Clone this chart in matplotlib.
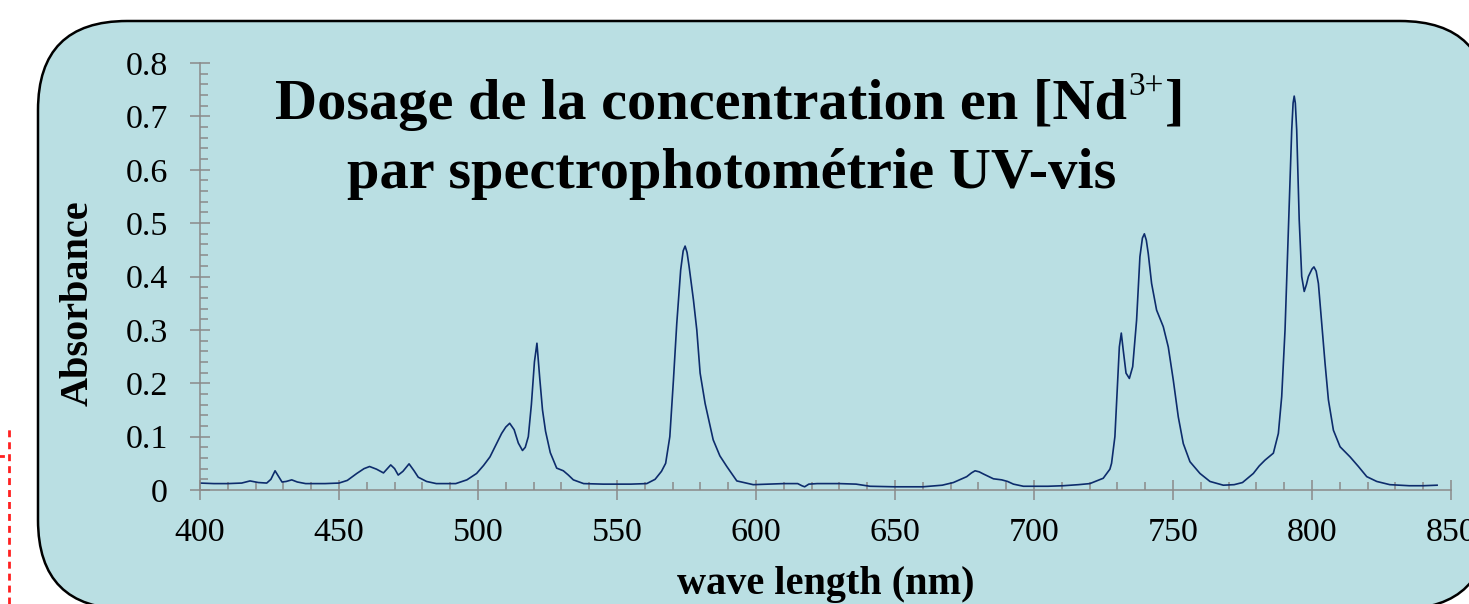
import matplotlib
matplotlib.use("Agg")
import matplotlib.pyplot as plt
from matplotlib.patches import FancyBboxPatch
from matplotlib.lines import Line2D
from matplotlib.ticker import MultipleLocator

plt.rcParams['font.family'] = ['Liberation Serif', 'DejaVu Serif']
plt.rcParams['lines.scale_dashes'] = False

# Nd3+ absorption spectrum
wavelength = [400, 405, 410, 415, 418, 421, 424, 425.5, 427, 428.3, 429.5, 431, 433, 435, 438,
              445, 450, 453, 456.4, 459, 461, 463.5, 466, 468.6, 470, 471.3, 473, 475.2, 477,
              478.5, 481.5, 485, 492, 496, 499.5, 502, 504.3, 506.5, 508.5, 510, 511.4, 513,
              514.5, 516, 517, 518.1, 519.2, 520.3, 521.2, 522.2, 523.2, 524.3, 526, 528.3,
              530.7, 532.5, 534.3, 538, 545, 555, 560.7, 563.7, 566, 567.5, 569, 570.3, 571.5,
              572.9, 573.8, 574.5, 575.2, 575.9, 577.5, 578.7, 579.9, 581.7, 584.6, 587, 589.5,
              593.1, 599, 605, 610, 615, 616.5, 617.5, 619, 622, 630, 636, 641, 650, 660, 667,
              671, 675.8, 677.5, 678.8, 680.3, 681.8, 685.4, 688.4, 690.5, 692.6, 696.2, 705,
              710.5, 716, 720.1, 724.9, 727.3, 727.9, 729.1, 730, 730.7, 731.4, 732.1, 733.1,
              734.3, 735.5, 736.9, 738.1, 739.0, 739.7, 740.4, 741.1, 742.3, 744.1, 746.5,
              748.3, 750.1, 751.9, 753.7, 756.1, 759.7, 763.3, 768.1, 772, 775, 778.9, 781,
              783.1, 786.1, 787.9, 789.1, 790.3, 791.5, 792.7, 793.2, 793.6, 794.0, 794.5,
              795.4, 796.3, 797.2, 798.0, 798.7, 800.0, 800.7, 801.5, 802.3, 803.5, 804.7,
              805.9, 807.7, 810.1, 813.7, 816.7, 819.7, 823.3, 828, 835, 840, 845]
absorbance = [0.013, 0.012, 0.012, 0.013, 0.017, 0.014, 0.013, 0.020, 0.036, 0.025, 0.015, 0.016,
              0.019, 0.015, 0.012, 0.012, 0.013, 0.018, 0.031, 0.040, 0.044, 0.039, 0.032, 0.047,
              0.040, 0.028, 0.035, 0.049, 0.036, 0.024, 0.016, 0.012, 0.012, 0.019, 0.031, 0.046,
              0.062, 0.085, 0.106, 0.118, 0.125, 0.113, 0.088, 0.074, 0.080, 0.100, 0.160, 0.240,
              0.275, 0.210, 0.150, 0.110, 0.070, 0.041, 0.036, 0.028, 0.019, 0.012, 0.011, 0.011,
              0.012, 0.020, 0.035, 0.050, 0.100, 0.206, 0.312, 0.412, 0.448, 0.457, 0.445, 0.420,
              0.356, 0.300, 0.219, 0.162, 0.094, 0.064, 0.044, 0.017, 0.010, 0.011, 0.012, 0.012,
              0.008, 0.006, 0.011, 0.012, 0.012, 0.011, 0.007, 0.006, 0.006, 0.009, 0.014, 0.025,
              0.032, 0.036, 0.034, 0.030, 0.021, 0.019, 0.016, 0.011, 0.007, 0.007, 0.008, 0.010,
              0.012, 0.022, 0.039, 0.050, 0.100, 0.194, 0.268, 0.294, 0.262, 0.219, 0.209, 0.231,
              0.318, 0.437, 0.472, 0.480, 0.468, 0.443, 0.387, 0.337, 0.306, 0.268, 0.206, 0.137,
              0.087, 0.053, 0.031, 0.016, 0.009, 0.010, 0.014, 0.031, 0.045, 0.056, 0.069, 0.106,
              0.175, 0.300, 0.487, 0.674, 0.725, 0.738, 0.725, 0.674, 0.506, 0.400, 0.372, 0.385,
              0.400, 0.414, 0.418, 0.410, 0.387, 0.312, 0.237, 0.169, 0.112, 0.081, 0.062, 0.044,
              0.025, 0.016, 0.010, 0.008, 0.008, 0.009]

x_ticks = [400, 450, 500, 550, 600, 650, 700, 750, 800, 850]
y_ticks = [0, 0.1, 0.2, 0.3, 0.4, 0.5, 0.6, 0.7, 0.8]
y_tick_labels = ['0', '0.1', '0.2', '0.3', '0.4', '0.5', '0.6', '0.7', '0.8']

W, H = 1469, 604
fig = plt.figure(figsize=(W / 100, H / 100), dpi=100)
fig.patch.set_facecolor('white')

# rounded teal panel, partly cut by the image border
panel = FancyBboxPatch((0.38, -0.05), 14.51, 5.88,
                       boxstyle="round,pad=0,rounding_size=0.89",
                       transform=fig.dpi_scale_trans, facecolor='#BADFE3',
                       edgecolor='black', linewidth=1.8, zorder=-10)
fig.add_artist(panel)

# red dashed line at the far left
fig.add_artist(Line2D([0.09, 0.09], [0, 1.77], transform=fig.dpi_scale_trans,
                      color='#FF2020', linewidth=2.0, dashes=(5, 3.6)))
fig.add_artist(Line2D([0.0, 0.03], [1.48, 1.48], transform=fig.dpi_scale_trans,
                      color='#FF2020', linewidth=2.0))

ax = fig.add_axes([200 / W, 114 / H, 1251 / W, 427 / H])
ax.set_facecolor('none')
ax.plot(wavelength, absorbance, color='#0D2C6C', linewidth=1.2)

ax.set_xlim(400, 850)
ax.set_ylim(0, 0.8)
ax.set_xticks(x_ticks)
ax.set_yticks(y_ticks)
ax.set_yticklabels(y_tick_labels)
ax.xaxis.set_minor_locator(MultipleLocator(10))
ax.yaxis.set_minor_locator(MultipleLocator(0.02))

for s in ['top', 'right']:
    ax.spines[s].set_visible(False)
for s in ['left', 'bottom']:
    ax.spines[s].set_color('#8a8a8a')
    ax.spines[s].set_linewidth(1.1)

ax.tick_params(which='major', direction='inout', length=14.4, width=1.1,
               color='#8a8a8a', labelsize=24.5, labelcolor='black')
ax.tick_params(which='minor', direction='in', length=6, width=1.1, color='#8a8a8a')
ax.tick_params(axis='y', which='major', pad=16)
ax.tick_params(axis='x', which='major', pad=12.5)

ax.set_xlabel('wave length (nm)', fontsize=29, fontweight='bold', labelpad=13)
ax.set_ylabel('Absorbance', fontsize=29, fontweight='bold')
ax.yaxis.set_label_coords(-0.083, 0.438)

# title, with the 3+ as a small superscript
t1 = fig.text(275 / W, (H - 119) / H, 'Dosage de la concentration en [Nd',
              fontsize=42, fontweight='bold', ha='left', va='baseline')
t2 = ax.annotate('3+', xy=(1, 0), xycoords=t1, xytext=(1, 21),
                 textcoords='offset points', fontsize=24,
                 ha='left', va='bottom', annotation_clip=False)
ax.annotate(']', xy=(1, 0), xycoords=(t2, t1), xytext=(1, 0),
            textcoords='offset points', fontsize=42, fontweight='bold',
            ha='left', va='bottom', annotation_clip=False)
fig.text(732 / W, (H - 188) / H, 'par spectrophotométrie UV-vis',
         fontsize=42, fontweight='bold', ha='center', va='baseline')

fig.savefig('out.png', dpi=100)
